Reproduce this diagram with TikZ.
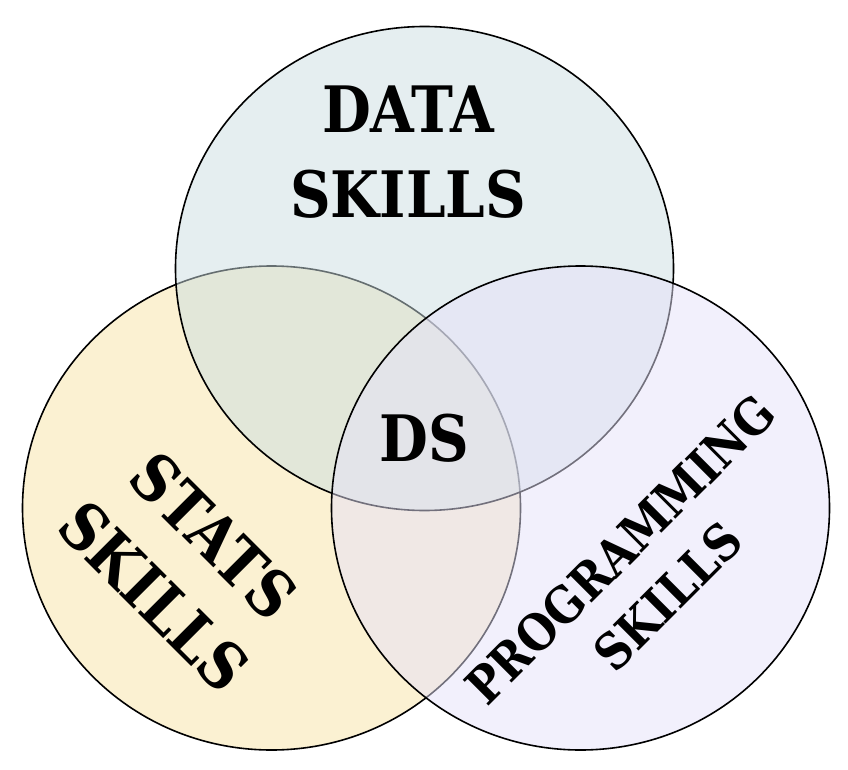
\documentclass[tikz,border=0pt]{standalone}
\usepackage{fontspec}
\setmainfont{DejaVu Serif}[FakeStretch=0.88]
\usetikzlibrary{shapes.geometric}

\definecolor{statsfill}{RGB}{247,227,165}
\definecolor{datafill}{RGB}{203,221,225}
\definecolor{progfill}{RGB}{229,225,249}

\tikzset{
  venn/.style={draw, ellipse, line width=1.6pt, fill opacity=0.5, inner sep=0pt,
    minimum width=498pt, minimum height=484pt},
  bigtext/.style={font=\bfseries\fontsize{64}{85}\selectfont, align=center},
  smalltext/.style={font=\bfseries\fontsize{50}{67}\selectfont, align=center}
}

\begin{document}
\begin{tikzpicture}[x=1pt, y=-1pt]

     \useasboundingbox (0, 0) rectangle (848, 770);

     \node (S) at (271.5, 508) [venn, fill=statsfill] {};
     \node (D) at (424.5, 268.5) [venn, fill=datafill] {};
     \node (P) at (580.5, 508) [venn, fill=progfill] {};

     \node (Dtext) at (408, 152) [bigtext] {DATA\\SKILLS};
     \node (DS) at (424, 438) [bigtext] {DS};
     \node (Stext) at (184, 566) [bigtext, rotate=-45] {STATS\\SKILLS};
     \node (Ptext) at (644, 573) [smalltext, rotate=45] {PROGRAMMING\\SKILLS};

\end{tikzpicture}
\end{document}
